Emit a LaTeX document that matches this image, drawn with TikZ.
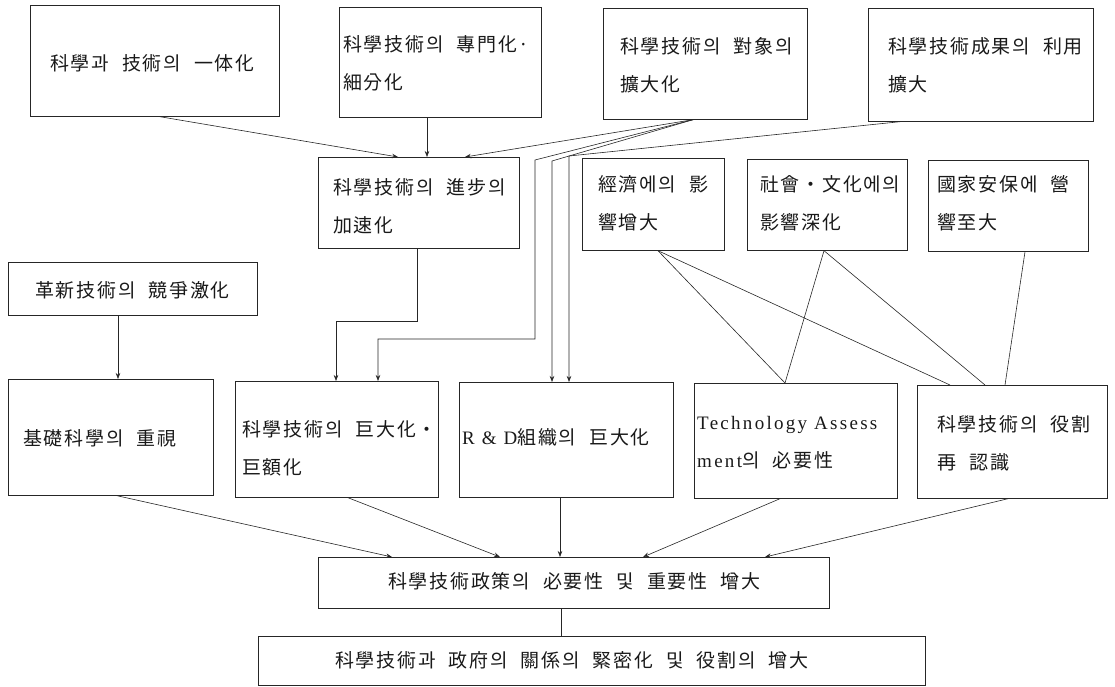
\documentclass[tikz,border=0pt]{standalone}
\usepackage{fontspec}
\setmainfont{Liberation Serif}[LetterSpace=12]
\newfontfamily\kr{Noto Sans CJK KR}[LetterSpace=9,WordSpace=2.2]
\usetikzlibrary{arrows.meta}
\newcommand{\lat}[1]{{\rmfamily #1}}
\begin{document}
\begin{tikzpicture}[x=1pt,y=-1pt,
  box/.style={draw=black!85, line width=0.7pt, inner sep=0pt, anchor=north west},
  txt/.style={anchor=west, inner sep=0pt, align=left, text=black!90,
              font=\kr\fontsize{19}{38}\selectfont},
  ln/.style={draw=black!85, line width=0.6pt},
  arr/.style={ln, -{Stealth[length=6pt,width=4.5pt]}}]
\useasboundingbox (0,0) rectangle (1115,687);
% boxes
\node[box, minimum width=249pt, minimum height=111pt] (a1) at (30,5) {};
\node[box, minimum width=202pt, minimum height=110pt] (a2) at (339,7) {};
\node[box, minimum width=204pt, minimum height=111pt] (a3) at (603,8) {};
\node[box, minimum width=225pt, minimum height=113pt] (a4) at (868,8) {};
\node[box, minimum width=201pt, minimum height=91pt] (b1) at (318,157) {};
\node[box, minimum width=142pt, minimum height=92pt] (e1) at (582,158) {};
\node[box, minimum width=160pt, minimum height=91pt] (e2) at (747,159) {};
\node[box, minimum width=160pt, minimum height=91pt] (e3) at (928,160) {};
\node[box, minimum width=249pt, minimum height=53pt] (l1) at (8,262) {};
\node[box, minimum width=205pt, minimum height=116pt] (c1) at (8,379) {};
\node[box, minimum width=203pt, minimum height=116pt] (c2) at (235,381) {};
\node[box, minimum width=214pt, minimum height=115pt] (c3) at (459,382) {};
\node[box, minimum width=203pt, minimum height=115pt] (c4) at (694,383) {};
\node[box, minimum width=190pt, minimum height=113pt] (c5) at (917,385) {};
\node[box, minimum width=511pt, minimum height=51pt] (d1) at (318,557) {};
\node[box, minimum width=667pt, minimum height=49pt] (d2) at (258,636) {};
% texts
\node[txt] (ta1) at (50,63) {科學과 技術의 一体化};
\node[txt] (ta2) at (343,63) {科學技術의 專門化·\\細分化};
\node[txt] (ta3) at (620,65) {科學技術의 對象의\\擴大化};
\node[txt] (ta4) at (888,65) {科學技術成果의 利用\\擴大};
\node[txt] (tb1) at (333,206) {科學技術의 進步의\\加速化};
\node[txt] (te1) at (598,203) {經濟에의 影\\響增大};
\node[txt] (te2) at (760,203) {社會・文化에의\\影響深化};
\node[txt] (te3) at (937,203) {國家安保에 營\\響至大};
\node[txt] (tl1) at (35,290) {革新技術의 競爭激化};
\node[txt] (tc1) at (23,438) {基礎科學의 重視};
\node[txt] (tc2) at (242,448) {科學技術의 巨大化・\\巨額化};
\node[txt] (tc3) at (462,437) {\lat{R \& D}組織의 巨大化};
\node[txt] (tc4) at (697,443) {\lat{Technology Assess}\\\lat{ment}의 必要性};
\node[txt] (tc5) at (937,443) {科學技術의 役割\\再 認識};
\node[txt] (td1) at (388,581) {科學技術政策의 必要性 및 重要性 增大};
\node[txt] (td2) at (335,660) {科學技術과 政府의 關係의 緊密化 및 役割의 增大};
% connectors
\draw[arr] (160,0 |- a1.south) -- (398,0 |- b1.north);
\draw[arr] (427,0 |- a2.south) -- (427,0 |- b1.north);
\draw[arr] (693,0 |- a3.south) -- (465,0 |- b1.north);
\draw[arr] (693,0 |- a3.south) -- (535,160) -- (535,339) -- (378,339) -- (378,0 |- c2.north);
\draw[arr] (693,0 |- a3.south) -- (552,161) -- (552,0 |- c3.north);
\draw[arr] (900,0 |- a4.south) -- (569,156) -- (569,0 |- c3.north);
\draw[arr] (417,0 |- b1.south) -- (417,321) -- (336,321) -- (336,0 |- c2.north);
\draw[arr] (118,0 |- l1.south) -- (118,0 |- c1.north);
\draw[ln] (658,0 |- e1.south) -- (785,0 |- c4.north);
\draw[ln] (658,0 |- e1.south) -- (950,0 |- c5.north);
\draw[ln] (824,0 |- e2.south) -- (785,0 |- c4.north);
\draw[ln] (824,0 |- e2.south) -- (985,0 |- c5.north);
\draw[ln] (1025,0 |- e3.south) -- (1005,0 |- c5.north);
\draw[arr] (117,0 |- c1.south) -- (392,0 |- d1.north);
\draw[arr] (348,0 |- c2.south) -- (500,0 |- d1.north);
\draw[arr] (560,0 |- c3.south) -- (560,0 |- d1.north);
\draw[arr] (780,0 |- c4.south) -- (643,0 |- d1.north);
\draw[arr] (1008,0 |- c5.south) -- (765,0 |- d1.north);
\draw[ln] (561,0 |- d1.south) -- (561,0 |- d2.north);
\end{tikzpicture}
\end{document}
